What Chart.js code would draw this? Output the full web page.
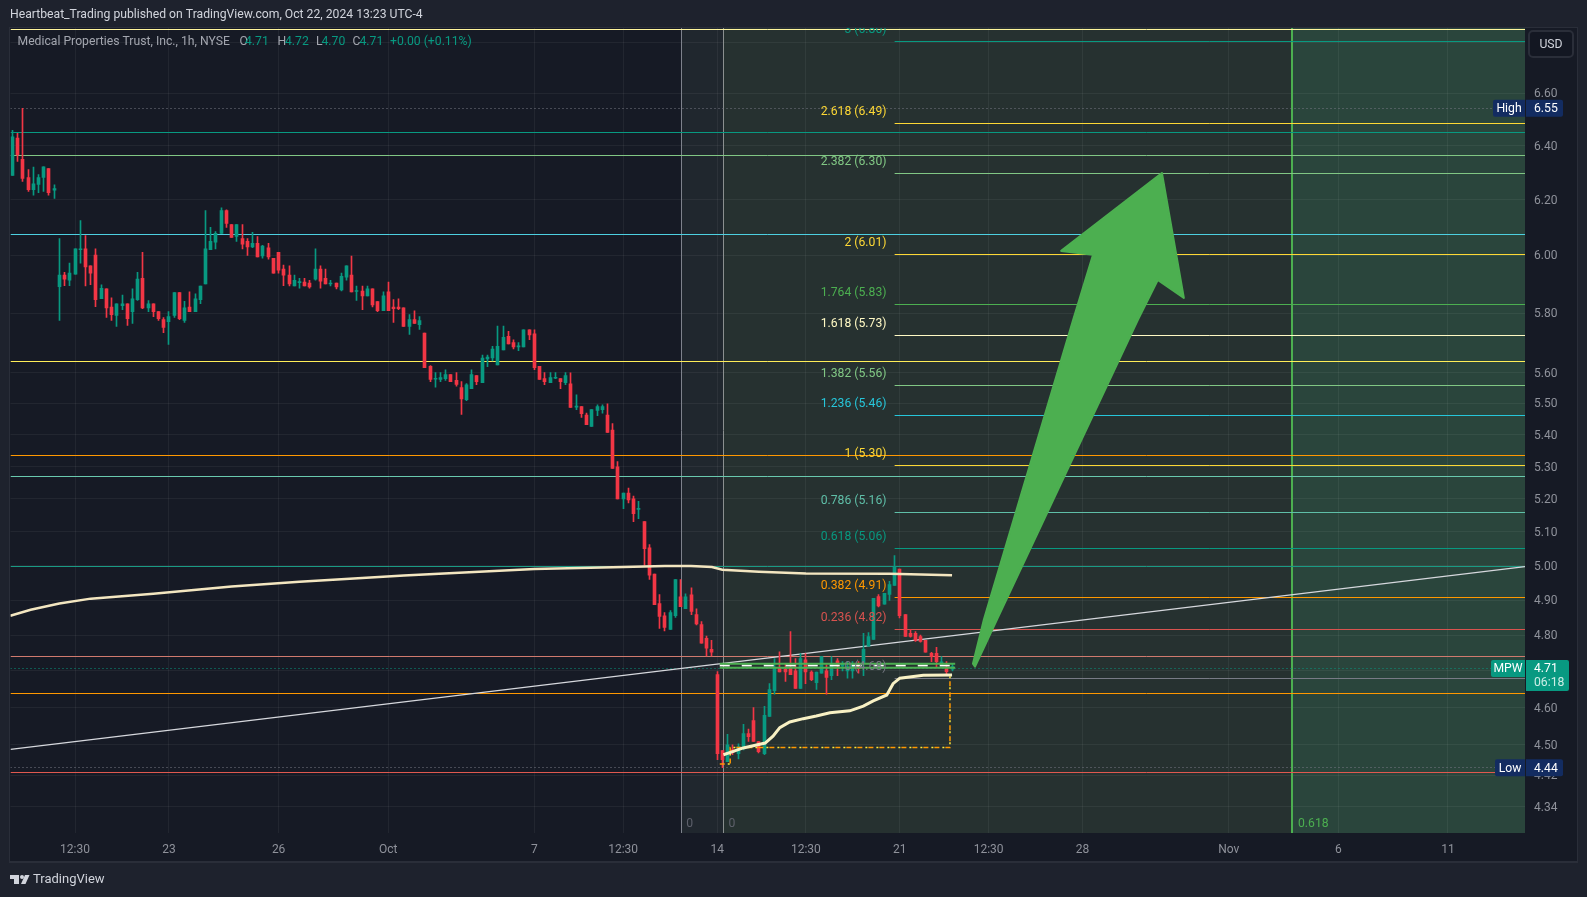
<!DOCTYPE html>
<html>
<head>
<meta charset="utf-8">
<title>MPW 1h</title>
<script src="https://cdn.jsdelivr.net/npm/chart.js@4/dist/chart.umd.min.js"></script>
<style>
  html, body { margin: 0; padding: 0; background: #1e222d; }
  canvas { display: block; }
</style>
</head>
<body>
<canvas id="myChart" width="1587" height="897"></canvas>
<script>
// candles, one per hour bar
const opens = [
  6.289,6.428,6.349,6.281,6.236,6.256,6.281,6.314,6.235,5.891,
  5.931,5.913,5.934,6.02,6.023,5.963,6.001,5.849,5.883,5.821,
  5.792,5.825,5.832,5.805,5.846,5.92,5.818,5.832,5.805,5.778,
  5.771,5.792,5.87,5.775,5.821,5.805,5.846,5.90,6.02,6.047,
  6.078,6.16,6.11,6.067,6.06,6.05,6.03,6.043,5.998,6.027,
  5.99,6.011,5.952,5.931,5.893,5.905,5.907,5.903,5.917,5.952,
  5.92,5.90,5.903,5.88,5.924,5.931,5.874,5.876,5.859,5.883,
  5.839,5.808,5.873,5.821,5.821,5.818,5.755,5.778,5.761,5.732,
  5.621,5.579,5.578,5.581,5.594,5.575,5.552,5.512,5.548,5.591,
  5.568,5.646,5.649,5.626,5.676,5.721,5.70,5.686,5.686,5.743,
  5.73,5.621,5.581,5.568,5.582,5.581,5.568,5.564,5.488,5.49,
  5.463,5.426,5.478,5.48,5.463,5.415,5.299,5.20,5.218,5.20,
  5.168,5.131,5.053,4.975,4.89,4.855,4.816,4.855,4.909,4.875,
  4.915,4.858,4.83,4.791,4.76,4.69,4.485,4.456,4.487,4.477,
  4.495,4.53,4.565,4.509,4.477,4.576,4.646,4.707,4.705,4.71,
  4.70,4.652,4.731,4.697,4.668,4.694,4.70,4.687,4.728,4.713,
  4.70,4.70,4.718,4.721,4.769,4.788,4.91,4.888,4.916,4.942,
  4.99,4.858,4.805,4.805,4.796,4.785,4.749,4.749,4.717,4.707,
  4.705];
const highs = [
  6.458,6.446,6.542,6.31,6.32,6.292,6.321,6.314,6.254,6.06,
  5.941,5.973,6.023,6.124,6.07,5.963,6.023,5.897,5.883,5.852,
  5.832,5.862,5.832,5.883,5.941,6.011,5.843,5.832,5.805,5.785,
  5.805,5.87,5.87,5.84,5.873,5.866,5.893,6.16,6.10,6.085,
  6.17,6.163,6.11,6.11,6.11,6.06,6.082,6.067,6.036,6.043,
  5.99,6.011,5.966,5.963,5.931,5.92,5.92,5.913,6.023,5.963,
  5.952,5.913,5.903,5.938,5.963,5.998,5.893,5.893,5.893,5.883,
  5.839,5.873,5.907,5.846,5.849,5.818,5.795,5.808,5.788,5.732,
  5.624,5.601,5.601,5.61,5.594,5.601,5.571,5.565,5.61,5.591,
  5.659,5.659,5.688,5.756,5.756,5.738,5.71,5.70,5.743,5.743,
  5.743,5.621,5.601,5.601,5.601,5.581,5.601,5.60,5.528,5.49,
  5.469,5.48,5.496,5.496,5.499,5.435,5.315,5.218,5.233,5.209,
  5.193,5.131,5.062,4.975,4.916,4.864,4.87,4.959,4.959,4.918,
  4.935,4.875,4.838,4.797,4.785,4.698,4.485,4.528,4.50,4.503,
  4.555,4.542,4.60,4.509,4.603,4.665,4.734,4.753,4.719,4.81,
  4.734,4.748,4.748,4.70,4.697,4.74,4.717,4.74,4.734,4.726,
  4.726,4.726,4.726,4.805,4.807,4.905,4.916,4.919,4.954,5.03,
  4.99,4.858,4.816,4.81,4.80,4.785,4.752,4.766,4.74,4.726,
  4.72];
const lows = [
  6.289,6.341,6.267,6.23,6.216,6.225,6.23,6.216,6.204,5.775,
  5.894,5.894,5.934,5.973,5.893,5.898,5.822,5.849,5.785,5.775,
  5.755,5.812,5.758,5.765,5.843,5.815,5.805,5.788,5.775,5.734,
  5.694,5.785,5.778,5.768,5.805,5.805,5.832,5.90,6.02,6.023,
  6.078,6.10,6.064,6.05,6.023,6.00,6.027,5.995,5.99,5.987,
  5.938,5.938,5.894,5.893,5.893,5.886,5.893,5.886,5.913,5.886,
  5.90,5.893,5.883,5.876,5.913,5.873,5.843,5.812,5.859,5.821,
  5.805,5.808,5.808,5.768,5.812,5.755,5.728,5.765,5.745,5.617,
  5.571,5.553,5.571,5.575,5.571,5.556,5.465,5.509,5.548,5.561,
  5.568,5.62,5.639,5.626,5.676,5.696,5.679,5.673,5.686,5.71,
  5.61,5.578,5.561,5.568,5.581,5.548,5.561,5.487,5.48,5.455,
  5.432,5.426,5.461,5.469,5.407,5.294,5.20,5.17,5.188,5.131,
  5.14,5.001,4.96,4.887,4.819,4.812,4.816,4.85,4.881,4.875,
  4.858,4.829,4.777,4.742,4.742,4.461,4.44,4.456,4.474,4.463,
  4.487,4.509,4.509,4.479,4.474,4.576,4.636,4.697,4.671,4.69,
  4.652,4.652,4.665,4.673,4.649,4.694,4.636,4.676,4.687,4.70,
  4.68,4.68,4.694,4.687,4.769,4.788,4.88,4.888,4.899,4.942,
  4.849,4.796,4.794,4.782,4.78,4.752,4.726,4.711,4.715,4.688,
  4.70];
const closes = [
  6.433,6.365,6.278,6.236,6.258,6.281,6.321,6.225,6.24,5.931,
  5.917,5.938,6.023,6.022,5.96,5.938,5.846,5.885,5.818,5.795,
  5.832,5.832,5.781,5.849,5.917,5.818,5.832,5.805,5.781,5.751,
  5.788,5.87,5.781,5.818,5.805,5.849,5.893,6.023,6.05,6.078,
  6.16,6.114,6.064,6.11,6.04,6.03,6.043,5.995,6.033,5.995,
  5.938,5.948,5.931,5.90,5.913,5.907,5.893,5.89,5.952,5.91,
  5.90,5.903,5.89,5.927,5.963,5.873,5.876,5.859,5.883,5.828,
  5.808,5.859,5.808,5.815,5.815,5.755,5.778,5.765,5.775,5.617,
  5.578,5.581,5.584,5.594,5.571,5.562,5.515,5.561,5.594,5.571,
  5.649,5.652,5.679,5.688,5.718,5.696,5.686,5.688,5.743,5.726,
  5.617,5.578,5.571,5.584,5.584,5.571,5.591,5.487,5.49,5.467,
  5.432,5.48,5.49,5.49,5.407,5.294,5.20,5.218,5.197,5.155,
  5.17,5.05,4.972,4.887,4.853,4.822,4.864,4.959,4.881,4.909,
  4.867,4.832,4.777,4.763,4.752,4.477,4.461,4.50,4.48,4.495,
  4.53,4.522,4.509,4.482,4.579,4.649,4.71,4.697,4.697,4.69,
  4.652,4.734,4.697,4.676,4.697,4.74,4.682,4.721,4.718,4.72,
  4.712,4.72,4.706,4.76,4.796,4.905,4.883,4.919,4.945,4.996,
  4.855,4.796,4.796,4.785,4.782,4.752,4.74,4.726,4.725,4.698,
  4.712];

// axes
const priceTicks = [6.8,6.6,6.4,6.2,6.0,5.8,5.6,5.5,5.4,5.3,5.2,5.1,5.0,4.9,4.8,4.7,4.6,4.5,4.42,4.34];
const timeTickPos = [12,30,51,72,100,117,135,152,170,187,205,233,254,275];
const timeTickLabels = ['12:30','23','26','Oct','7','12:30','14','12:30','21','12:30','28','Nov','6','11'];

// moving averages
const slowMaX = [-0.4,3.5,9,15,27,42,55,75,100,115,125,130,134,136,143,152,168,180];
const slowMaY = [4.855,4.872,4.89,4.904,4.918,4.939,4.953,4.971,4.99,4.995,4.999,4.999,4.996,4.988,4.982,4.977,4.976,4.972];
const fastMaX = [136.2,138.1,140,141.9,144.2,145.7,147,148.9,151.5,154,156.6,160.4,163,164.9,167.5,168.7,170,174.5,180];
const fastMaY = [4.474,4.483,4.492,4.498,4.505,4.523,4.546,4.561,4.57,4.577,4.586,4.591,4.604,4.618,4.634,4.665,4.68,4.688,4.689];

// horizontal levels across the whole chart
const levelPrices = [6.85,6.45,6.364,6.075,5.639,5.333,5.27,4.998,4.739,4.637,4.427];
const levelColors = ['#fff59d','#089981','#81c784','#4dd0e1','#ffee58','#ff9800','#69c9ae','#1a9a84','#d07a6e','#ff9800','#e0584f'];

// fib extension from the swing: where each line sits, and what its label says
const fibPrices = [6.805,6.485,6.297,6.005,5.83,5.725,5.56,5.46,5.302,5.16,5.052,4.906,4.817,4.678];
const fibLabels = ['3 (6.80)','2.618 (6.49)','2.382 (6.30)','2 (6.01)','1.764 (5.83)','1.618 (5.73)','1.382 (5.56)','1.236 (5.46)','1 (5.30)','0.786 (5.16)','0.618 (5.06)','0.382 (4.91)','0.236 (4.82)','0 (4.68)'];
const fibColors = ['#089981','#fdd835','#81c784','#fdd835','#4caf50','#fff9c4','#81c784','#26c6da','#fdd835','#5fbfa8','#089981','#ff9800','#d9534f','#787b86'];
const fibStart = 169;

// time fib zones
const zoneEdges = [128.1,136.2,245.1,289.75];
const zoneFills = ['#20272e','#263130','#2a453c'];

// trend line, arrow, boxes
const trendX = [-0.36,289.75];
const trendY = [4.488,4.997];
const arrowX = [184,186.1,203.2,207,200.9,220.2,224.4,219.4,215.6,188.6,184.4];
const arrowY = [4.72,4.844,5.777,6.002,6.016,6.298,5.852,5.914,5.777,4.844,4.712];
const boxX = [135.5,180.6];
const boxTop = 4.72;
const boxMid = 4.715;
const boxBottom = 4.709;
const rangeX = [135.5,137.5,137.5,179.6,179.6];
const rangeY = [4.45,4.45,4.493,4.493,4.69];

const highPrice = 6.542;
const lowPrice = 4.44;
const lastPrice = 4.708;

const xMin = -0.36, xMax = 289.75;
const GREEN = '#089981', RED = '#f23645';

function lineSet(xs, ys, color, width, order, extra) {
  return Object.assign({
    type: 'line',
    data: xs.map((x, k) => ({ x: x, y: ys[k] })),
    borderColor: color,
    borderWidth: width,
    pointRadius: 0,
    tension: 0,
    order: order
  }, extra || {});
}

var datasets = [];

levelPrices.forEach((p, k) => {
  datasets.push(lineSet([xMin, xMax], [p, p], levelColors[k], 1, 6, { flat: true }));
});
fibPrices.forEach((p, k) => {
  datasets.push(lineSet([fibStart, xMax], [p, p], fibColors[k], 1, 6, { flat: true }));
});
datasets.push(lineSet([xMin, xMax], [highPrice, highPrice], '#787b86', 1, 6, { flat: true, borderDash: [1, 3] }));
datasets.push(lineSet([xMin, xMax], [lowPrice, lowPrice], '#787b86', 1, 6, { flat: true, borderDash: [1, 3] }));
datasets.push(lineSet([xMin, xMax], [lastPrice, lastPrice], GREEN, 1, 6, { flat: true, borderDash: [1, 3] }));
datasets.push(lineSet(trendX, trendY, '#d6d8dd', 1.2, 5));

const isUp = opens.map((o, i) => closes[i] >= o);
const candleColors = isUp.map(u => u ? GREEN : RED);
datasets.push({
  type: 'bar', grouped: false, order: 4, barThickness: 1, minBarLength: 1,
  data: opens.map((o, i) => ({ x: i, y: [lows[i], highs[i]] })),
  backgroundColor: candleColors
});
datasets.push({
  type: 'bar', grouped: false, order: 3, barThickness: 3, minBarLength: 1,
  data: opens.map((o, i) => ({ x: i, y: [Math.min(o, closes[i]), Math.max(o, closes[i])] })),
  backgroundColor: candleColors
});

datasets.push(lineSet(slowMaX, slowMaY, '#f3e6c0', 2.5, 2));
datasets.push(lineSet(fastMaX, fastMaY, '#f8f1c4', 3, 2));
datasets.push(lineSet(rangeX, rangeY, '#ff9800', 1.5, 2, { borderDash: [5, 6] }));
datasets.push(lineSet(rangeX, rangeY, '#ffeb3b', 1.5, 2, { borderDash: [2, 9], borderDashOffset: 3 }));
datasets.push(lineSet(boxX, [boxTop, boxTop], '#4caf50', 2, 1));
datasets.push(lineSet(boxX, [boxBottom, boxBottom], '#4caf50', 2, 1));
datasets.push(lineSet(boxX, [boxMid, boxMid], '#ffffff', 2, 1, { borderDash: [10, 12] }));

function text(ctx, s, x, y, color, align, font) {
  ctx.font = font || '12.2px Roboto';
  ctx.fillStyle = color;
  ctx.textAlign = align || 'left';
  ctx.textBaseline = 'middle';
  ctx.fillText(s, x, y + 1);
}

function roundBox(ctx, x, y, w, h, r, fill, stroke) {
  ctx.beginPath();
  ctx.roundRect(x, y, w, h, r);
  ctx.fillStyle = fill;
  ctx.fill();
  if (stroke) { ctx.strokeStyle = stroke; ctx.lineWidth = 2; ctx.stroke(); }
}

const tvPlugin = {
  id: 'tv',
  afterLayout(chart) {
    // price labels sit a touch lower than canvas middle baseline gives
    chart.scales.y.getLabelItems(chart.chartArea).forEach(item => {
      item.options.translation[1] += 1;
    });
  },
  beforeDraw(chart) {
    const ctx = chart.ctx, a = chart.chartArea, xs = chart.scales.x;
    ctx.save();
    ctx.fillStyle = '#1e222d';
    ctx.fillRect(0, 0, 1587, 897);
    ctx.fillStyle = '#2a2e39';
    ctx.fillRect(9, 27, 1569, 836);
    ctx.fillStyle = '#161a25';
    ctx.fillRect(10, 28, 1567, 833);
    zoneFills.forEach((c, k) => {
      const l = xs.getPixelForValue(zoneEdges[k]), r = xs.getPixelForValue(zoneEdges[k + 1]);
      ctx.fillStyle = c;
      ctx.fillRect(l, a.top, r - l, a.bottom - a.top);
    });
    ctx.restore();
  },
  beforeDatasetsDraw(chart) {
    // snap marks to whole pixels so wicks and levels stay sharp
    chart.data.datasets.forEach((ds, i) => {
      const meta = chart.getDatasetMeta(i);
      if (ds.type === 'bar') {
        meta.data.forEach(el => { el.x = Math.floor(el.x) + 0.5; });
      } else if (ds.flat) {
        meta.data.forEach(el => { el.y = Math.floor(el.y) + 0.5; });
      }
    });
    const ctx = chart.ctx, a = chart.chartArea, xs = chart.scales.x;
    ctx.save();
    [[zoneEdges[0], '#7e828c', 1], [zoneEdges[1], '#8a8f8f', 1], [zoneEdges[2], '#4caf50', 2]].forEach(v => {
      const px = Math.round(xs.getPixelForValue(v[0])) + (v[2] === 1 ? 0.5 : 0);
      ctx.strokeStyle = v[1];
      ctx.lineWidth = v[2];
      ctx.beginPath();
      ctx.moveTo(px, a.top);
      ctx.lineTo(px, a.bottom);
      ctx.stroke();
    });
    ctx.restore();
  },
  afterDatasetsDraw(chart) {
    const ctx = chart.ctx, xs = chart.scales.x, ys = chart.scales.y, a = chart.chartArea;
    ctx.save();
    ctx.beginPath();
    ctx.rect(a.left, a.top, a.right - a.left, a.bottom - a.top);
    ctx.clip();
    // fib labels sit just above their line, clipped by the pane
    fibLabels.forEach((s, k) => {
      text(ctx, s, 886.5, ys.getPixelForValue(fibPrices[k]) - 12.5, fibColors[k], 'right');
    });
    text(ctx, '0', xs.getPixelForValue(zoneEdges[0]) + 8.5, 823, '#5d606b', 'center');
    text(ctx, '0', xs.getPixelForValue(zoneEdges[1]) + 8.5, 823, '#5d606b', 'center');
    text(ctx, '0.618', 1298, 823, '#4caf50');
    // big arrow
    ctx.beginPath();
    arrowX.forEach((x, k) => {
      const px = xs.getPixelForValue(x), py = ys.getPixelForValue(arrowY[k]);
      if (k === 0) ctx.moveTo(px, py); else ctx.lineTo(px, py);
    });
    ctx.closePath();
    ctx.fillStyle = '#4caf50';
    ctx.strokeStyle = '#4caf50';
    ctx.lineWidth = 2;
    ctx.lineJoin = 'round';
    ctx.fill();
    ctx.stroke();
    ctx.restore();
  },
  afterDraw(chart) {
    const ctx = chart.ctx, ys = chart.scales.y;
    ctx.save();
    text(ctx, 'Heartbeat_Trading published on TradingView.com, Oct 22, 2024 13:23 UTC-4', 10, 14, '#d1d4dc');

    const dim = '#a3a6af';
    text(ctx, 'Medical Properties Trust, Inc., 1h, NYSE', 17.5, 41, dim);
    [['O', 239.5, dim], ['4.71', 245, GREEN], ['H', 277.5, dim], ['4.72', 285, GREEN], ['L', 316, dim],
     ['4.70', 321.5, GREEN], ['C', 352.5, dim], ['4.71', 359.5, GREEN], ['+0.00 (+0.11%)', 390, GREEN]].forEach(t => {
      text(ctx, t[0], t[1], 41, t[2]);
    });

    roundBox(ctx, 1529, 31, 44, 26, 4, '#131722', '#2a2e39');
    text(ctx, 'USD', 1551, 44, '#d1d4dc', 'center');

    const navy = '#132c61';
    const hy = ys.getPixelForValue(highPrice), ly = ys.getPixelForValue(lowPrice);
    roundBox(ctx, 1493, hy - 8.5, 32, 17, [2, 0, 0, 2], navy);
    roundBox(ctx, 1526, hy - 8.5, 37, 17, [0, 2, 2, 0], navy);
    text(ctx, 'High', 1509, hy, '#ffffff', 'center');
    text(ctx, '6.55', 1534, hy, '#ffffff');
    roundBox(ctx, 1495, ly - 8.5, 30, 17, [2, 0, 0, 2], navy);
    roundBox(ctx, 1526, ly - 8.5, 37, 17, [0, 2, 2, 0], navy);
    text(ctx, 'Low', 1510, ly, '#ffffff', 'center');
    text(ctx, '4.44', 1534, ly, '#ffffff');

    roundBox(ctx, 1491, 660, 34, 17, [2, 0, 0, 2], GREEN);
    roundBox(ctx, 1526, 660, 43, 31, [0, 2, 2, 0], GREEN);
    text(ctx, 'MPW', 1508, 668, '#ffffff', 'center');
    text(ctx, '4.71', 1534, 668, '#ffffff');
    text(ctx, '06:18', 1534, 682, '#cdeee6');

    // TradingView mark
    ctx.fillStyle = '#d1d4dc';
    ctx.fillRect(10, 875, 9, 4);
    ctx.fillRect(14, 875, 5, 9);
    ctx.beginPath();
    ctx.arc(22, 877, 2, 0, Math.PI * 2);
    ctx.fill();
    ctx.beginPath();
    ctx.moveTo(25, 875);
    ctx.lineTo(29.5, 875);
    ctx.lineTo(25.5, 884);
    ctx.lineTo(21, 884);
    ctx.closePath();
    ctx.fill();
    text(ctx, 'TradingView', 33, 879, '#d1d4dc', 'left', '13px Roboto');
    ctx.restore();
  }
};

var ctx = document.getElementById('myChart');
var myChart = new Chart(ctx, {
  type: 'bar',
  data: { datasets: datasets },
  plugins: [tvPlugin],
  options: {
    responsive: false,
    animation: false,
    devicePixelRatio: 1,
    layout: { padding: { left: 10.5, top: 28, right: 0, bottom: 0 } },
    plugins: { legend: { display: false }, tooltip: { enabled: false } },
    scales: {
      x: {
        type: 'linear', min: xMin, max: xMax, bounds: 'data', offset: false,
        afterBuildTicks: axis => { axis.ticks = timeTickPos.map(v => ({ value: v })); },
        afterFit: axis => { axis.height = 64; },
        border: { display: false },
        grid: { color: 'rgba(255,255,255,0.055)', offset: false, drawTicks: false },
        ticks: {
          autoSkip: false, maxRotation: 0, padding: 10, color: '#8f929b',
          font: { family: 'Roboto', size: 12 },
          callback: v => timeTickLabels[timeTickPos.indexOf(v)]
        }
      },
      y: {
        type: 'logarithmic', position: 'right', min: 4.273, max: 6.858, bounds: 'data',
        afterBuildTicks: axis => { axis.ticks = priceTicks.map(v => ({ value: v })); },
        afterFit: axis => { axis.width = 62; },
        border: { display: false },
        grid: { color: 'rgba(255,255,255,0.055)', drawTicks: false },
        ticks: {
          autoSkip: false, padding: 9, color: '#8f929b',
          font: { family: 'Roboto', size: 12 },
          callback: v => v.toFixed(2)
        }
      }
    }
  }
});
</script>
</body>
</html>
